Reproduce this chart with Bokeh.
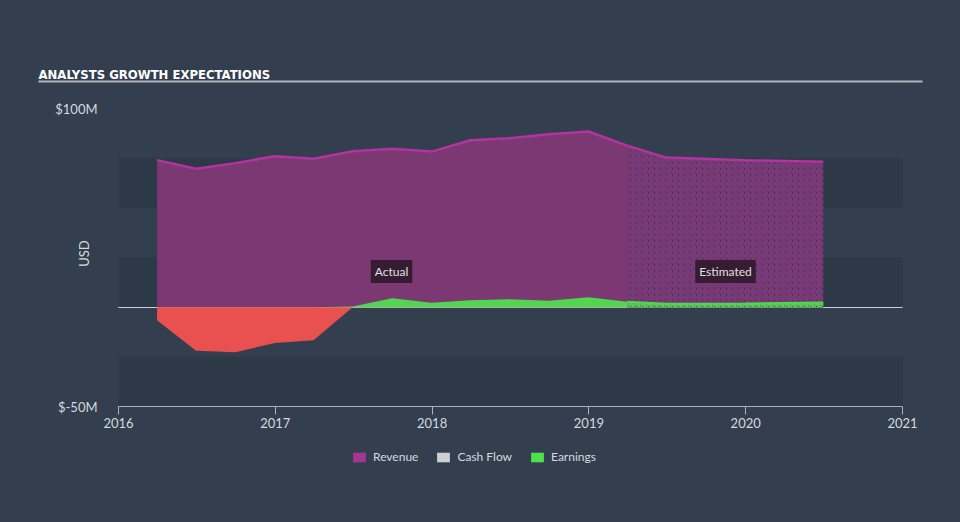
import numpy as np
import pandas as pd
from bokeh.plotting import figure
from bokeh.models import (Range1d, FixedTicker, BoxAnnotation, Label,
                          Legend, LegendItem)
from bokeh.embed import file_html
from bokeh.resources import INLINE

# ---------------- data (values in $M) ----------------
actual_dates = ["2016-03-31", "2016-06-30", "2016-09-30", "2016-12-31",
                "2017-03-31", "2017-06-30", "2017-09-30", "2017-12-31",
                "2018-03-31", "2018-06-30", "2018-09-30", "2018-12-31",
                "2019-03-31"]
actual_revenue = [74.0, 69.7, 72.5, 76.0, 74.7, 78.5, 79.8, 78.3,
                  84.0, 85.0, 87.0, 88.4, 81.3]
actual_earnings = [-6.6, -22.0, -22.7, -18.0, -16.7, 0.3, 4.5, 2.2,
                   3.5, 4.0, 3.2, 5.0, 2.7]

est_dates = ["2019-03-31", "2019-06-30", "2019-12-31", "2020-06-30"]
est_revenue = [81.3, 75.3, 74.0, 73.2]
est_earnings = [2.7, 1.7, 1.9, 2.4]

x_ticks = [2016, 2017, 2018, 2019, 2020, 2021]
y_ticks = [-50, 100]
y_tick_labels = ["$-50M", "$100M"]
band_ranges = [(50, 75), (0, 25), (-50, -25)]
series_names = ["Revenue", "Cash Flow", "Earnings"]
series_colors = ["#a3378f", "#cfcfcf", "#4fe04f"]

# ---------------- style ----------------
BG = "#333f4f"
BAND = "#2e3947"
REV_FILL = "#7b3873"
REV_LINE = "#b3339f"
GREEN = "#52d652"
RED = "#e95050"
TXT = "#d5d9de"
FONT = "Lato"
TITLE_FONT = "'DejaVu Sans Condensed', Roboto, sans-serif"

W, H = 960, 522
PX_LEFT, PX_RIGHT = 118, 902     # pixel positions of 2016 and 2021
PX_TOP, PX_BOTTOM = 108, 406     # pixel positions of 100 and -50
sx = (PX_RIGHT - PX_LEFT) / (x_ticks[-1] - x_ticks[0])
sy = (PX_BOTTOM - PX_TOP) / (y_ticks[1] - y_ticks[0])
x0 = x_ticks[0] - PX_LEFT / sx
x1 = x_ticks[0] + (W - PX_LEFT) / sx
y1 = y_ticks[1] + PX_TOP / sy
y0 = y_ticks[0] - (H - PX_BOTTOM) / sy


def to_year(dates):
    d = pd.to_datetime(pd.Series(dates))
    days = np.where(d.dt.is_leap_year, 366, 365)
    return (d.dt.year + (d.dt.dayofyear - 1) / days).to_numpy(dtype=float)


def px_x(px):
    return x0 + px / sx


def px_y(py):
    return y1 - py / sy


xa = to_year(actual_dates)
xe = to_year(est_dates)
ea = np.array(actual_earnings, dtype=float)
ee = np.array(est_earnings, dtype=float)

p = figure(width=W, height=H, x_range=Range1d(x0, x1),
           y_range=Range1d(y0, y1), output_backend="svg",
           toolbar_location=None, min_border=0,
           background_fill_color=BG, border_fill_color=BG,
           outline_line_color=None)
p.grid.visible = False

# bands
for lo, hi in band_ranges:
    p.add_layout(BoxAnnotation(bottom=lo, top=hi, left=x_ticks[0],
                               right=x_ticks[-1], fill_color=BAND,
                               fill_alpha=1, line_color=None, level="underlay"))
# zero line
p.segment(x0=[x_ticks[0]], y0=[0], x1=[x_ticks[-1]], y1=[0],
          line_color="white", line_width=1.5, level="underlay")

# revenue
p.varea(x=xa, y1=0, y2=actual_revenue, fill_color=REV_FILL, fill_alpha=1)
p.varea(x=xe, y1=0, y2=est_revenue, fill_color="#3e3348", fill_alpha=1,
        hatch_pattern="right_diagonal_line", hatch_color="#7d3a7a",
        hatch_scale=6, hatch_weight=2.5, hatch_alpha=1)
p.line(xa, actual_revenue, line_color=REV_LINE, line_width=2.5)
p.line(xe, est_revenue, line_color=REV_LINE, line_width=2.5)

# earnings
p.varea(x=xa, y1=0, y2=np.minimum(ea, 0), fill_color=RED, fill_alpha=1)
p.varea(x=xa, y1=0, y2=np.maximum(ea, 0), fill_color=GREEN, fill_alpha=1)
p.varea(x=xe, y1=0, y2=np.maximum(ee, 0), fill_color="#3a4a40", fill_alpha=1,
        hatch_pattern="right_diagonal_line", hatch_color=GREEN, hatch_scale=6,
        hatch_weight=2.5, hatch_alpha=1)
p.line(xe, ee, line_color=GREEN, line_width=2)

# axes fixed at the plot-area edges
xax = p.xaxis[0]
xax.fixed_location = y_ticks[0]
xax.bounds = (x_ticks[0], x_ticks[-1])
xax.ticker = FixedTicker(ticks=x_ticks)
xax.major_label_overrides = {t: str(t) for t in x_ticks}
xax.axis_line_color = "#aab3bd"
xax.axis_line_width = 1.2
xax.major_tick_line_color = "#aab3bd"
xax.major_tick_in = 0
xax.major_tick_out = 8
xax.minor_tick_line_color = None
xax.major_label_text_color = TXT
xax.major_label_text_font = FONT
xax.major_label_text_font_size = "13px"
xax.major_label_standoff = 3

yax = p.yaxis[0]
yax.fixed_location = x_ticks[0]
yax.ticker = FixedTicker(ticks=y_ticks)
yax.major_label_overrides = dict(zip(y_ticks, y_tick_labels))
yax.axis_line_color = None
yax.major_tick_line_color = None
yax.minor_tick_line_color = None
yax.major_label_text_color = TXT
yax.major_label_text_font = FONT
yax.major_label_text_font_size = "13px"
yax.major_label_standoff = 15

# texts
p.add_layout(Label(x=px_x(83), y=px_y(253), text="USD", angle=np.pi / 2,
                   text_align="center", text_baseline="middle",
                   text_color=TXT, text_font=FONT, text_font_size="13px"))
p.add_layout(Label(x=px_x(38), y=px_y(74), text="ANALYSTS GROWTH EXPECTATIONS",
                   text_color="white", text_font=TITLE_FONT,
                   text_font_style="bold", text_font_size="13px",
                   text_baseline="alphabetic"))
p.add_layout(BoxAnnotation(left=px_x(38), right=px_x(922), bottom=px_y(82),
                           top=px_y(80), fill_color="#b0b5ba", fill_alpha=1,
                           line_color=None))
for xt, txt in [(px_x(391), "Actual"), (px_x(725), "Estimated")]:
    p.add_layout(Label(x=xt, y=px_y(271), text=txt, text_align="center",
                       text_baseline="middle", text_color="#e0e0e0",
                       text_font=FONT, text_font_size="12px",
                       background_fill_color="#2a1828",
                       background_fill_alpha=0.85, padding=4))

# legend: swatch renderers carry no visible data (Cash Flow has no series)
items = []
for name, col in zip(series_names, series_colors):
    r = p.quad(left=[np.nan], right=[np.nan], top=[np.nan], bottom=[np.nan],
               fill_color=col, fill_alpha=1, line_color=None)
    items.append(LegendItem(label=name, renderers=[r]))
legend = Legend(items=items, orientation="horizontal", location=(351, 58),
                label_text_color=TXT, label_text_font=FONT,
                label_text_font_size="12px", glyph_width=16, glyph_height=12,
                spacing=17, label_standoff=6, background_fill_alpha=0,
                border_line_color=None, margin=0, padding=5)
p.add_layout(legend, "center")

html = file_html(p, INLINE)
html = html.replace("</head>",
                    "<style>html,body{background:%s;}</style></head>" % BG, 1)
open("out.html", "w").write(html)
